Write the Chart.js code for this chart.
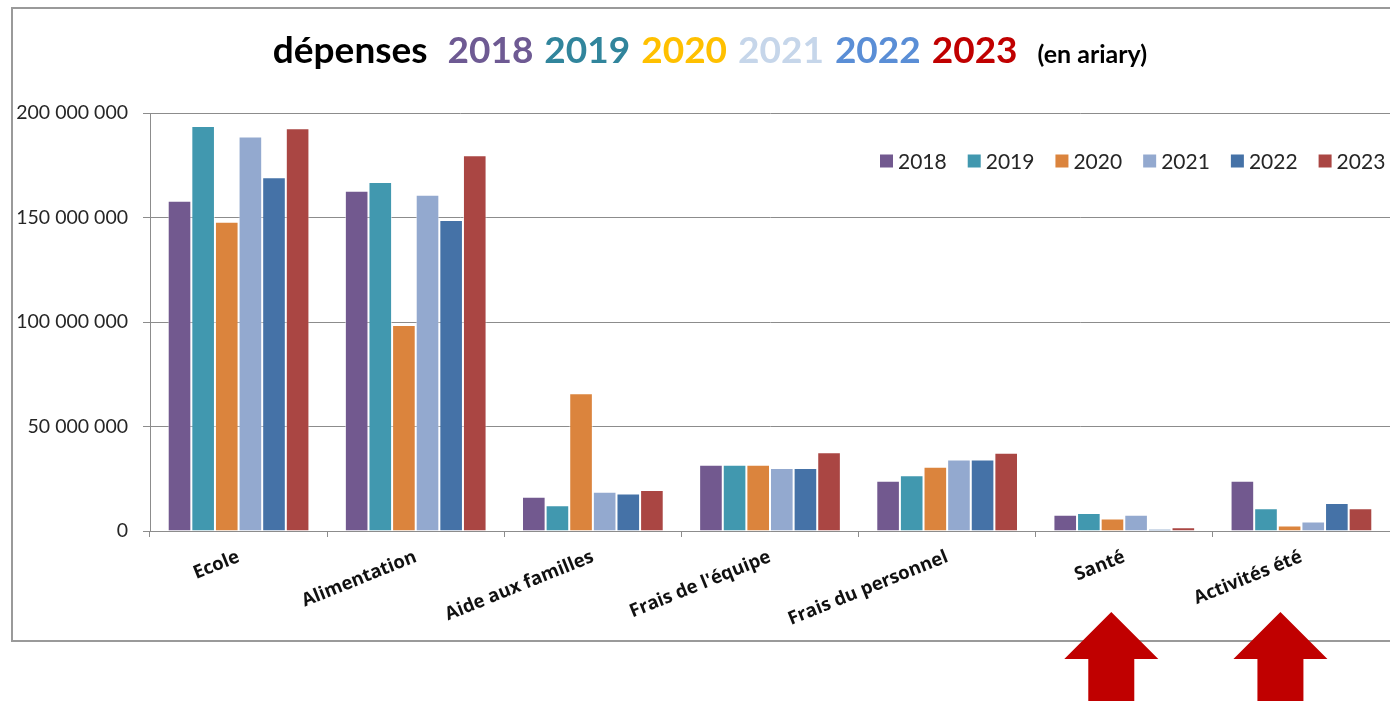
<!DOCTYPE html>
<html>
<head>
<meta charset="utf-8">
<script src="https://cdn.jsdelivr.net/npm/chart.js@4.4.0/dist/chart.umd.min.js"></script>
<style>
  html, body { margin: 0; padding: 0; background: #ffffff; }
  #wrap { width: 1390px; height: 701px; position: relative; }
</style>
</head>
<body>
<div id="wrap"><canvas id="c" width="1390" height="701"></canvas></div>
<script>
// ---- data ----
const categories = ['Ecole', 'Alimentation', 'Aide aux familles', "Frais de l'équipe", 'Frais du personnel', 'Santé', 'Activités été'];
const years = ['2018', '2019', '2020', '2021', '2022', '2023'];
const values2018 = [158000000, 162800000, 16400000, 31700000, 24100000, 7800000, 24100000];
const values2019 = [193800000, 167000000, 12300000, 31700000, 26700000, 8600000, 10900000];
const values2020 = [148000000, 98600000, 65900000, 31700000, 30800000, 6000000, 2600000];
const values2021 = [188700000, 160900000, 18800000, 30100000, 34200000, 7800000, 4500000];
const values2022 = [169200000, 148800000, 18000000, 30100000, 34200000, 1000000, 13400000];
const values2023 = [192700000, 179800000, 19600000, 37700000, 37400000, 1800000, 10900000];
const yTickValues = [0, 50000000, 100000000, 150000000, 200000000];
const yTickLabels = ['0', '50 000 000', '100 000 000', '150 000 000', '200 000 000'];
const titleWord = 'dépenses';
const titleUnit = '(en ariary)';
const highlighted = ['Santé', 'Activités été'];

// ---- styles ----
const barColors = ['#72598F', '#4198AF', '#DB843D', '#93A9CF', '#4572A7', '#AA4643'];
const titleYearColors = ['#6E5A93', '#31859C', '#FFC000', '#C6D6EA', '#5A8ED6', '#C00000'];
const seriesValues = [values2018, values2019, values2020, values2021, values2022, values2023];

const datasets = years.map((y, i) => ({
  label: y,
  data: seriesValues[i],
  backgroundColor: barColors[i],
  borderColor: 'rgba(255,255,255,0.55)',
  borderWidth: 1,
  barPercentage: 1.0,
  categoryPercentage: 0.8
}));

const frame = {
  id: 'frame',
  beforeDraw(chart) {
    const ctx = chart.ctx;
    ctx.save();
    ctx.fillStyle = '#ffffff';
    ctx.fillRect(0, 0, chart.width, chart.height);
    ctx.strokeStyle = '#9a9a9a';
    ctx.lineWidth = 2;
    ctx.strokeRect(12, 8, 1500, 633);
    ctx.restore();
  },
  afterDraw(chart) {
    const ctx = chart.ctx;
    ctx.save();
    // title
    const pieces = [{ t: titleWord, c: '#000000', f: 37, gap: 20 }];
    years.forEach((y, i) => pieces.push({ t: y, c: titleYearColors[i], f: 37, gap: i === years.length - 1 ? 20 : 11 }));
    pieces.push({ t: titleUnit, c: '#000000', f: 25, gap: 0 });
    let total = 0;
    pieces.forEach(p => { ctx.font = 'bold ' + p.f + 'px Lato'; p.w = ctx.measureText(p.t).width; total += p.w + p.gap; });
    let x = 710 - total / 2;
    ctx.textBaseline = 'alphabetic';
    ctx.textAlign = 'left';
    pieces.forEach(p => {
      ctx.font = 'bold ' + p.f + 'px Lato';
      ctx.fillStyle = p.c;
      ctx.fillText(p.t, x, 63);
      x += p.w + p.gap;
    });
    // legend
    ctx.font = '21px Lato';
    ctx.textBaseline = 'middle';
    let lx = 880;
    const ly = 161;
    chart.data.datasets.forEach(ds => {
      ctx.fillStyle = ds.backgroundColor;
      ctx.fillRect(lx, ly - 6.5, 13, 13);
      ctx.fillStyle = '#262626';
      ctx.fillText(ds.label, lx + 18, ly + 1);
      lx += 18 + ctx.measureText(ds.label).width + 21;
    });
    // arrows under highlighted categories
    const xs = chart.scales.x;
    const offsets = [-13, -21];
    highlighted.forEach((cat, k) => {
      const cx = xs.getPixelForValue(categories.indexOf(cat)) + offsets[k];
      const tip = 612, base = 659, half = 47, shaft = 23;
      ctx.fillStyle = '#C00000';
      ctx.beginPath();
      ctx.moveTo(cx, tip);
      ctx.lineTo(cx + half, base);
      ctx.lineTo(cx + shaft, base);
      ctx.lineTo(cx + shaft, 701);
      ctx.lineTo(cx - shaft, 701);
      ctx.lineTo(cx - shaft, base);
      ctx.lineTo(cx - half, base);
      ctx.closePath();
      ctx.fill();
    });
    ctx.restore();
  }
};

new Chart(document.getElementById('c'), {
  type: 'bar',
  data: { labels: categories, datasets },
  options: {
    responsive: false,
    animation: false,
    devicePixelRatio: 1,
    layout: { padding: { top: 113, right: 0, bottom: 0, left: 0 } },
    plugins: { legend: { display: false }, title: { display: false }, tooltip: { enabled: false } },
    scales: {
      x: {
        afterFit(s) { s.height = 170; },
        grid: { display: true, drawOnChartArea: false, offset: true, tickLength: 6, color: '#8c8c8c' },
        border: { display: true, color: '#8c8c8c', width: 1 },
        ticks: {
          minRotation: 22, maxRotation: 22, autoSkip: false, padding: 9,
          color: '#111111', font: { family: 'Open Sans', size: 18.5, weight: 'bold' }
        }
      },
      y: {
        min: 0, max: 200000000,
        afterFit(s) { s.width = 150; },
        afterBuildTicks(s) { s.ticks = yTickValues.map(v => ({ value: v })); },
        grid: { color: '#8c8c8c', tickLength: 7, lineWidth: 1 },
        border: { display: true, color: '#8c8c8c', width: 1 },
        ticks: {
          padding: 15, color: '#262626', font: { family: 'Lato', size: 19.5 },
          callback(v) { const i = yTickValues.indexOf(v); return i >= 0 ? yTickLabels[i] : ''; }
        }
      }
    }
  },
  plugins: [frame]
});
</script>
</body>
</html>
